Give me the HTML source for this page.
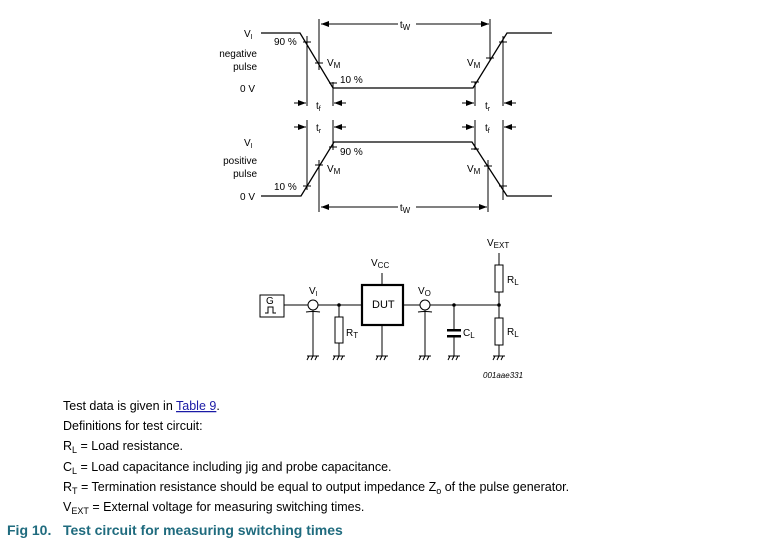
<!DOCTYPE html>
<html><head><meta charset="utf-8"><style>
html,body{margin:0;padding:0;background:#fff;}
svg{display:block;font-family:"Liberation Sans",Arial,sans-serif;}
</style></head><body>
<svg width="767" height="543" viewBox="0 0 767 543" xmlns="http://www.w3.org/2000/svg">
<defs>
<marker id="ar" markerWidth="8" markerHeight="6" refX="8" refY="3" orient="auto" markerUnits="userSpaceOnUse"><path d="M0,0 L8,3 L0,6 z" fill="#000"/></marker>
</defs>
<g stroke="#000" stroke-width="1" fill="none">
<polyline points="261,33 300,33 333,88 473,88 507,33 552,33" stroke-width="1.3"/>
<polyline points="261,196 301,196 334,142 472,142 507,196 552,196" stroke-width="1.3"/>
<line x1="307" y1="36" x2="307" y2="106"/>
<line x1="319" y1="19" x2="319" y2="70"/>
<line x1="333" y1="82" x2="333" y2="106"/>
<line x1="475" y1="82" x2="475" y2="106"/>
<line x1="490" y1="19" x2="490" y2="60"/>
<line x1="503" y1="36" x2="503" y2="106"/>
<line x1="307" y1="120" x2="307" y2="190"/>
<line x1="319" y1="160" x2="319" y2="212"/>
<line x1="333" y1="120" x2="333" y2="150"/>
<line x1="475" y1="120" x2="475" y2="150"/>
<line x1="488" y1="160" x2="488" y2="212"/>
<line x1="503" y1="120" x2="503" y2="200"/>
<path d="M303,42h8 M315,63h8 M329,83h8 M471,82h8 M486,58h8 M499,42h8"/>
<path d="M329,147h8 M315,165h8 M303,186h8 M471,149h8 M484,166h8 M499,186h8"/>
<line x1="398" y1="24" x2="321" y2="24" marker-end="url(#ar)"/>
<line x1="416" y1="24" x2="489" y2="24" marker-end="url(#ar)"/>
<line x1="398" y1="207" x2="321" y2="207" marker-end="url(#ar)"/>
<line x1="416" y1="207" x2="487" y2="207" marker-end="url(#ar)"/>
<line x1="294" y1="103" x2="306" y2="103" marker-end="url(#ar)"/>
<line x1="346" y1="103" x2="334" y2="103" marker-end="url(#ar)"/>
<line x1="462" y1="103" x2="474" y2="103" marker-end="url(#ar)"/>
<line x1="516" y1="103" x2="504" y2="103" marker-end="url(#ar)"/>
<line x1="294" y1="127" x2="306" y2="127" marker-end="url(#ar)"/>
<line x1="346" y1="127" x2="334" y2="127" marker-end="url(#ar)"/>
<line x1="462" y1="127" x2="474" y2="127" marker-end="url(#ar)"/>
<line x1="516" y1="127" x2="504" y2="127" marker-end="url(#ar)"/>
</g>
<g font-size="10" fill="#000">
<text x="405" y="28" text-anchor="middle">t<tspan font-size="8" dy="2">W</tspan></text>
<text x="405" y="211" text-anchor="middle">t<tspan font-size="8" dy="2">W</tspan></text>
<text x="244" y="37">V<tspan font-size="7" dy="2">I</tspan></text>
<text x="244" y="146">V<tspan font-size="7" dy="2">I</tspan></text>
<text x="274" y="45">90 %</text>
<text x="257" y="57" text-anchor="end">negative</text>
<text x="257" y="70" text-anchor="end">pulse</text>
<text x="257" y="164" text-anchor="end">positive</text>
<text x="257" y="177" text-anchor="end">pulse</text>
<text x="240" y="92">0 V</text>
<text x="240" y="200">0 V</text>
<text x="327" y="66">V<tspan font-size="8" dy="2">M</tspan></text>
<text x="340" y="83">10 %</text>
<text x="467" y="66">V<tspan font-size="8" dy="2">M</tspan></text>
<text x="316" y="109">t<tspan font-size="7" dy="2">f</tspan></text>
<text x="485" y="109">t<tspan font-size="7" dy="2">r</tspan></text>
<text x="316" y="131">t<tspan font-size="7" dy="2">r</tspan></text>
<text x="485" y="131">t<tspan font-size="7" dy="2">f</tspan></text>
<text x="340" y="155">90 %</text>
<text x="327" y="172">V<tspan font-size="8" dy="2">M</tspan></text>
<text x="467" y="172">V<tspan font-size="8" dy="2">M</tspan></text>
<text x="274" y="190">10 %</text>
</g>
<g stroke="#000" stroke-width="1" fill="none">
<rect x="260" y="295" width="24" height="22"/>
<path d="M265,313h3v-6h5v6h3"/>
<line x1="284" y1="305" x2="308" y2="305"/>
<circle cx="313" cy="305" r="5"/>
<path d="M306,312 q7,-1 14,0"/>
<line x1="318" y1="305" x2="362" y2="305"/>
<line x1="313" y1="310" x2="313" y2="356"/>
<line x1="339" y1="305" x2="339" y2="317"/>
<rect x="335" y="317" width="8" height="26"/>
<line x1="339" y1="343" x2="339" y2="356"/>
<rect x="362" y="285" width="41" height="40" stroke-width="2.2"/>
<line x1="382" y1="273" x2="382" y2="285"/>
<line x1="382" y1="325" x2="382" y2="356"/>
<line x1="403" y1="305" x2="420" y2="305"/>
<circle cx="425" cy="305" r="5"/>
<path d="M418,312 q7,-1 14,0"/>
<line x1="425" y1="310" x2="425" y2="356"/>
<line x1="430" y1="305" x2="499" y2="305"/>
<line x1="454" y1="305" x2="454" y2="330"/>
<line x1="454" y1="337" x2="454" y2="356"/>
<line x1="499" y1="253" x2="499" y2="265"/>
<rect x="495" y="265" width="8" height="27"/>
<line x1="499" y1="292" x2="499" y2="318"/>
<rect x="495" y="318" width="8" height="27"/>
<line x1="499" y1="345" x2="499" y2="356"/>
<path d="M307,356h12 M309,356l-2,4 M313,356l-2,4 M317,356l-2,4"/>
<path d="M333,356h12 M335,356l-2,4 M339,356l-2,4 M343,356l-2,4"/>
<path d="M376,356h12 M378,356l-2,4 M382,356l-2,4 M386,356l-2,4"/>
<path d="M419,356h12 M421,356l-2,4 M425,356l-2,4 M429,356l-2,4"/>
<path d="M448,356h12 M450,356l-2,4 M454,356l-2,4 M458,356l-2,4"/>
<path d="M493,356h12 M495,356l-2,4 M499,356l-2,4 M503,356l-2,4"/>
</g>
<rect x="447" y="329" width="14" height="2.5" fill="#000"/>
<rect x="447" y="335" width="14" height="2.5" fill="#000"/>
<circle cx="339" cy="305" r="1.8" fill="#000"/>
<circle cx="454" cy="305" r="1.8" fill="#000"/>
<circle cx="499" cy="305" r="1.8" fill="#000"/>
<g font-size="10" fill="#000">
<text x="266" y="304">G</text>
<text x="309" y="294">V<tspan font-size="7" dy="2">I</tspan></text>
<text x="346" y="336">R<tspan font-size="8" dy="2">T</tspan></text>
<text x="372" y="308" font-size="11">DUT</text>
<text x="371" y="266">V<tspan font-size="8" dy="2">CC</tspan></text>
<text x="418" y="294">V<tspan font-size="8" dy="2">O</tspan></text>
<text x="463" y="336">C<tspan font-size="8" dy="2">L</tspan></text>
<text x="507" y="283">R<tspan font-size="8" dy="2">L</tspan></text>
<text x="507" y="335">R<tspan font-size="8" dy="2">L</tspan></text>
<text x="487" y="246">V<tspan font-size="8" dy="2">EXT</tspan></text>
<text x="483" y="378" font-size="8" font-style="italic">001aae331</text>
</g>
<g font-size="12.5" fill="#000">
<text x="63" y="410">Test data is given in <tspan fill="#1a1aa6" text-decoration="underline">Table 9</tspan>.</text>
<text x="63" y="430">Definitions for test circuit:</text>
<text x="63" y="450">R<tspan font-size="9" dy="3">L</tspan><tspan dy="-3"> = Load resistance.</tspan></text>
<text x="63" y="471">C<tspan font-size="9" dy="3">L</tspan><tspan dy="-3"> = Load capacitance including jig and probe capacitance.</tspan></text>
<text x="63" y="491">R<tspan font-size="9" dy="3">T</tspan><tspan dy="-3"> = Termination resistance should be equal to output impedance Z</tspan><tspan font-size="9" dy="3">o</tspan><tspan dy="-3"> of the pulse generator.</tspan></text>
<text x="63" y="511">V<tspan font-size="9" dy="3">EXT</tspan><tspan dy="-3"> = External voltage for measuring switching times.</tspan></text>
</g>
<text x="7" y="535" font-size="14" font-weight="bold" fill="#1f6b7e">Fig 10.</text>
<text x="63" y="535" font-size="14" font-weight="bold" fill="#1f6b7e">Test circuit for measuring switching times</text>
</svg>
</body></html>
